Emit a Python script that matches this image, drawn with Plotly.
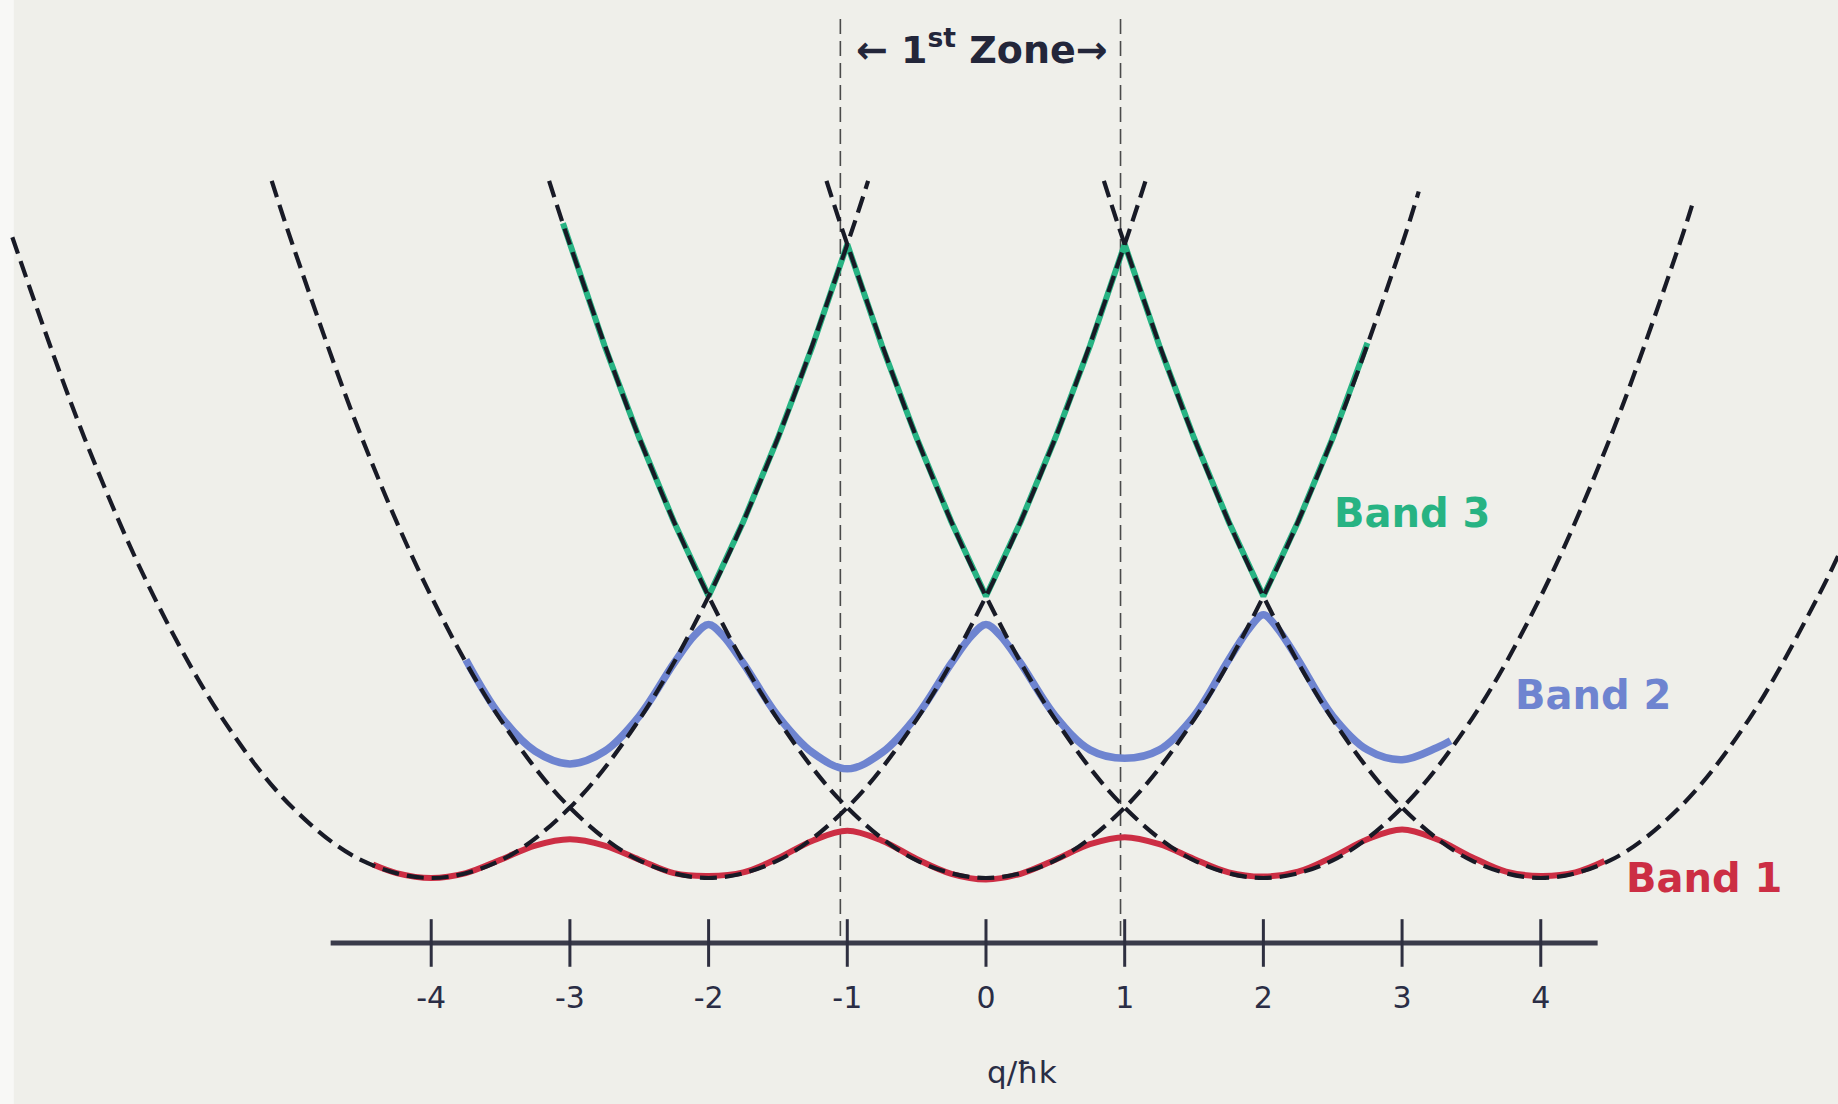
import plotly.graph_objects as go

# ---------------- data ----------------
# x: q / (hbar k);  y: energy in arbitrary units (free-particle vertex = 0)

# free-particle parabolas (black dashed), one per reciprocal-lattice shift
q_free_m4 = [-7.02, -6.5, -6.0, -5.5, -5.0, -4.5, -4.0, -3.5, -3.0, -2.5, -2.0, -1.5, -1.0, -0.85]
e_free_m4 = [9.1, 6.25, 4.0, 2.25, 1.0, 0.25, 0.0, 0.25, 1.0, 2.25, 4.0, 6.25, 9.0, 9.9]

q_free_m2 = [-5.15, -5.0, -4.5, -4.0, -3.5, -3.0, -2.5, -2.0, -1.5, -1.0, -0.5, 0.0, 0.5, 1.0, 1.15]
e_free_m2 = [9.9, 9.0, 6.25, 4.0, 2.25, 1.0, 0.25, 0.0, 0.25, 1.0, 2.25, 4.0, 6.25, 9.0, 9.9]

q_free_0 = [-3.15, -3.0, -2.5, -2.0, -1.5, -1.0, -0.5, 0.0, 0.5, 1.0, 1.5, 2.0, 2.5, 3.0, 3.12]
e_free_0 = [9.9, 9.0, 6.25, 4.0, 2.25, 1.0, 0.25, 0.0, 0.25, 1.0, 2.25, 4.0, 6.25, 9.0, 9.75]

q_free_p2 = [-1.15, -1.0, -0.5, 0.0, 0.5, 1.0, 1.5, 2.0, 2.5, 3.0, 3.5, 4.0, 4.5, 5.0, 5.09]
e_free_p2 = [9.9, 9.0, 6.25, 4.0, 2.25, 1.0, 0.25, 0.0, 0.25, 1.0, 2.25, 4.0, 6.25, 9.0, 9.55]

q_free_p4 = [0.85, 1.0, 1.5, 2.0, 2.5, 3.0, 3.5, 4.0, 4.5, 5.0, 5.5, 6.0, 6.15]
e_free_p4 = [9.9, 9.0, 6.25, 4.0, 2.25, 1.0, 0.25, 0.0, 0.25, 1.0, 2.25, 4.0, 4.6]

# Band 1 (red)
q_band1 = [-4.42, -4.25, -4.0, -3.75, -3.5, -3.25, -3.0, -2.75, -2.5, -2.25, -2.0, -1.75, -1.5,
           -1.25, -1.0, -0.75, -0.5, -0.25, 0.0, 0.25, 0.5, 0.75, 1.0, 1.25, 1.5, 1.75, 2.0,
           2.25, 2.5, 2.75, 3.0, 3.25, 3.5, 3.75, 4.0, 4.25, 4.46]
e_band1 = [0.19, 0.07, 0.0, 0.07, 0.26, 0.46, 0.55, 0.46, 0.26, 0.07, 0.03, 0.08, 0.28,
           0.53, 0.67, 0.53, 0.27, 0.06, -0.02, 0.06, 0.26, 0.48, 0.58, 0.48, 0.27, 0.08, 0.02,
           0.09, 0.3, 0.55, 0.69, 0.55, 0.3, 0.09, 0.03, 0.08, 0.24]

# Band 2 (blue)
q_band2 = [-3.75, -3.5, -3.25, -3.0, -2.75, -2.5, -2.25, -2.1, -2.0, -1.9, -1.75, -1.5, -1.25,
           -1.0, -0.75, -0.5, -0.25, -0.1, 0.0, 0.1, 0.25, 0.5, 0.75, 1.0, 1.25, 1.5, 1.75,
           1.9, 2.0, 2.1, 2.25, 2.5, 2.75, 3.0, 3.25, 3.35]
e_band2 = [3.1, 2.3, 1.8, 1.62, 1.8, 2.3, 3.05, 3.45, 3.6, 3.45, 3.05, 2.3, 1.78,
           1.55, 1.78, 2.3, 3.05, 3.45, 3.6, 3.45, 3.05, 2.3, 1.82, 1.7, 1.82, 2.3, 3.1,
           3.55, 3.74, 3.55, 3.1, 2.3, 1.82, 1.68, 1.85, 1.95]

# Band 3 (green)
q_band3 = [-3.05, -2.75, -2.5, -2.25, -2.0, -1.75, -1.5, -1.25, -1.0, -0.75, -0.5, -0.25, 0.0,
           0.25, 0.5, 0.75, 1.0, 1.25, 1.5, 1.75, 2.0, 2.25, 2.5, 2.75]
e_band3 = [9.3, 7.56, 6.25, 5.06, 4.0, 5.06, 6.25, 7.56, 9.0, 7.56, 6.25, 5.06, 4.0,
           5.06, 6.25, 7.56, 9.0, 7.56, 6.25, 5.06, 4.0, 5.06, 6.25, 7.6]

# axis / zone
tick_vals = [-4, -3, -2, -1, 0, 1, 2, 3, 4]
tick_text = ["-4", "-3", "-2", "-1", "0", "1", "2", "3", "4"]
axis_span = [-4.725, 4.41]
axis_level = -0.923
zone_bounds = [-1.05, 0.97]
zone_top = 12.2

band_labels = ["Band 3", "Band 2", "Band 1"]
band_label_q = [3.07, 4.38, 5.18]
band_label_e = [5.18, 2.6, 0.0]

# ---------------- styling ----------------
BG = "#efefea"
INK = "#2a2d45"
RED = "#cc2e44"
BLUE = "#6e84d0"
GREEN = "#27b383"
FONT = "DejaVu Sans"

fig = go.Figure()

# zone boundary lines
for b in zone_bounds:
    fig.add_trace(go.Scatter(x=[b, b], y=[zone_top, axis_level], mode="lines",
                             line=dict(color="#4a4a4a", width=1.6, dash="15px,7px"),
                             hoverinfo="skip", showlegend=False))

# coloured bands
fig.add_trace(go.Scatter(x=q_band3, y=e_band3, mode="lines",
                         line=dict(color=GREEN, width=6), showlegend=False))
fig.add_trace(go.Scatter(x=q_band2, y=e_band2, mode="lines",
                         line=dict(color=BLUE, width=7.5, shape="spline", smoothing=1.0),
                         showlegend=False))
fig.add_trace(go.Scatter(x=q_band1, y=e_band1, mode="lines",
                         line=dict(color=RED, width=6, shape="spline", smoothing=1.0),
                         showlegend=False))

# free-particle parabolas
for qq, ee in [(q_free_m4, e_free_m4), (q_free_m2, e_free_m2), (q_free_0, e_free_0),
               (q_free_p2, e_free_p2), (q_free_p4, e_free_p4)]:
    fig.add_trace(go.Scatter(x=qq, y=ee, mode="lines",
                             line=dict(color="#181a26", width=4.2, dash="17px,8px",
                                       shape="spline", smoothing=1.0),
                             showlegend=False))

# q axis line and crossing ticks
fig.add_trace(go.Scatter(x=axis_span, y=[axis_level, axis_level], mode="lines",
                         line=dict(color="#3a3b4a", width=5), showlegend=False))
fig.add_trace(go.Scatter(x=tick_vals, y=[axis_level] * len(tick_vals), mode="markers",
                         marker=dict(symbol="line-ns", size=34,
                                     line=dict(color="#2e2f40", width=3)),
                         showlegend=False))

annotations = []
for txt, qx, ey, col in zip(band_labels, band_label_q, band_label_e, [GREEN, BLUE, RED]):
    annotations.append(dict(x=qx, y=ey, xref="x", yref="y", text="<b>" + txt + "</b>",
                            showarrow=False, font=dict(family=FONT, size=40, color=col)))

annotations.append(dict(x=-0.03, y=11.8, xref="x", yref="y",
                        text="<b>← 1<sup>st</sup> Zone→</b>", showarrow=False,
                        font=dict(family=FONT, size=38, color="#23263a")))
annotations.append(dict(x=0.26, y=-2.76, xref="x", yref="y",
                        text="q/ħk", showarrow=False,
                        font=dict(family=FONT, size=31, color=INK)))

fig.update_layout(
    width=1838, height=1104,
    margin=dict(l=0, r=0, t=0, b=0),
    paper_bgcolor=BG, plot_bgcolor=BG,
    showlegend=False,
    annotations=annotations,
    shapes=[dict(type="rect", xref="paper", yref="paper", x0=0, x1=0.0075, y0=0, y1=1,
                 fillcolor="#f8f8f6", line=dict(width=0), layer="below")],
    xaxis=dict(range=[-7.109, 6.143], anchor="free", position=1 - 943 / 1104,
               showgrid=False, zeroline=False, showline=False,
               tickmode="array", tickvals=tick_vals, ticktext=tick_text,
               ticks="outside", ticklen=28, tickcolor="rgba(0,0,0,0)",
               tickfont=dict(family=FONT, size=30, color=INK)),
    yaxis=dict(range=[-3.21, 12.47], visible=False, showgrid=False, zeroline=False),
)

fig.write_html("out.html")
